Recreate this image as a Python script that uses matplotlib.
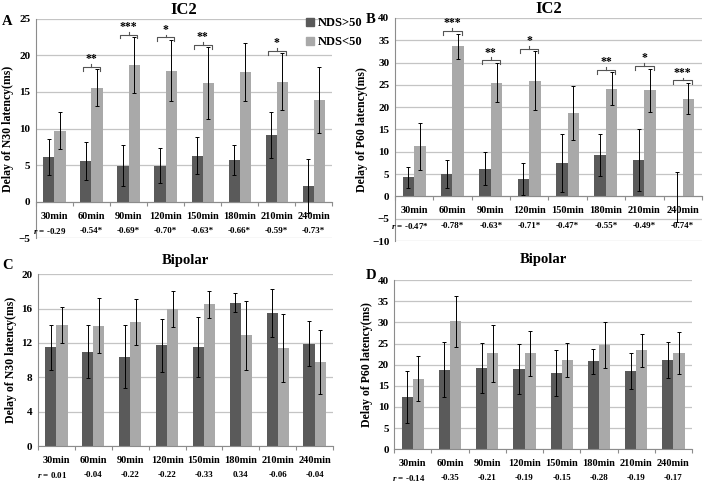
import numpy as np
import matplotlib
matplotlib.use("Agg")
import matplotlib.pyplot as plt
from matplotlib.patches import Patch

plt.rcParams["font.family"] = ["Liberation Serif", "DejaVu Serif"]
plt.rcParams["font.weight"] = "bold"
plt.rcParams["mathtext.fontset"] = "custom"
plt.rcParams["mathtext.it"] = "Liberation Serif:italic:bold"

times = ["30min", "60min", "90min", "120min", "150min", "180min", "210min", "240min"]

# panel A: IC2, N30
a_high = [6.1, 5.6, 4.9, 4.9, 6.3, 5.7, 9.1, 2.1]
a_high_err = [2.4, 2.6, 2.8, 2.4, 2.5, 2.0, 3.1, 3.7]
a_low = [9.7, 15.6, 18.7, 17.9, 16.2, 17.7, 16.4, 13.9]
a_low_err = [2.5, 2.5, 3.8, 4.2, 4.9, 4.0, 3.9, 4.5]
a_sig = ["", "**", "***", "*", "**", "", "*", ""]
a_r = ["-0.29", "-0.54*", "-0.69*", "-0.70*", "-0.63*", "-0.66*", "-0.59*", "-0.73*"]

# panel B: IC2, P60
b_high = [4.3, 5.0, 6.2, 3.9, 7.5, 9.3, 8.2, -0.2]
b_high_err = [2.4, 3.1, 3.7, 3.6, 6.5, 4.7, 6.9, 5.6]
b_low = [11.2, 33.6, 25.5, 25.9, 18.7, 24.1, 23.8, 21.9]
b_low_err = [5.2, 2.9, 4.4, 6.6, 6.1, 3.7, 4.8, 3.5]
b_sig = ["", "***", "**", "*", "", "**", "*", "***"]
b_r = ["-0.47*", "-0.78*", "-0.63*", "-0.71*", "-0.47*", "-0.55*", "-0.49*", "-0.74*"]

# panel C: Bipolar, N30
c_high = [11.5, 11.0, 10.4, 11.7, 11.5, 16.7, 15.5, 11.9]
c_high_err = [2.6, 3.1, 3.7, 3.1, 3.5, 1.1, 2.8, 2.6]
c_low = [14.1, 14.0, 14.4, 16.0, 16.5, 12.9, 11.4, 9.8]
c_low_err = [2.1, 3.2, 2.7, 2.1, 1.6, 4.0, 4.0, 3.7]
c_r = ["0.01", "-0.04", "-0.22", "-0.22", "-0.33", "0.34", "-0.06", "-0.04"]

# panel D: Bipolar, P60
d_high = [12.4, 18.8, 19.2, 18.9, 18.0, 20.8, 18.5, 21.1]
d_high_err = [6.2, 6.5, 6.0, 5.9, 5.5, 3.0, 4.2, 4.3]
d_low = [16.7, 30.3, 22.7, 22.7, 21.1, 24.6, 23.4, 22.8]
d_low_err = [5.3, 6.0, 6.8, 5.3, 4.1, 5.5, 3.9, 4.9]
d_r = ["-0.14", "-0.35", "-0.21", "-0.19", "-0.15", "-0.28", "-0.19", "-0.17"]

dark = "#5a5a5a"
light = "#a9a9a9"
grid = "#c4c4c4"

fig = plt.figure(figsize=(7.04, 4.84), dpi=100)


def panel(rect, high, high_err, low, low_err, ylim, step, ylabel, title, letter,
          r_vals, sig=None, title_size=12, title_y=1.02, letter_xy=(-0.1, 0.97)):
    ax = fig.add_axes(rect)
    x = np.arange(len(times))
    w = 0.3
    ax.bar(x - w / 2, high, w, color=dark, zorder=2)
    ax.bar(x + w / 2, low, w, color=light, zorder=2)
    ax.errorbar(x - w / 2, high, yerr=high_err, fmt="none", ecolor="black",
                elinewidth=0.7, capsize=1.5, capthick=0.7, zorder=3)
    ax.errorbar(x + w / 2, low, yerr=low_err, fmt="none", ecolor="black",
                elinewidth=0.7, capsize=1.5, capthick=0.7, zorder=3)

    ax.set_xlim(-0.5, len(times) - 0.5)
    ax.set_ylim(*ylim)
    ax.set_yticks(np.arange(ylim[0], ylim[1] + 0.1, step))
    ax.yaxis.grid(True, color=grid, linewidth=0.9, zorder=0)
    ax.set_axisbelow(True)
    for s in ["top", "right"]:
        ax.spines[s].set_visible(False)
    ax.spines["left"].set_color("#8c8c8c")
    ax.spines["bottom"].set_position(("data", 0))
    ax.spines["bottom"].set_color("#8c8c8c")
    ax.set_xticks(np.arange(len(times) + 1) - 0.5)
    ax.set_xticklabels([])
    ax.tick_params(axis="x", length=3, color="#8c8c8c")
    ax.tick_params(axis="y", length=0, labelsize=8, pad=4)
    ax.set_ylabel(ylabel, fontsize=8.5, fontweight="bold", labelpad=3)
    ax.set_title(title, fontsize=title_size, fontweight="bold", y=title_y, pad=0)
    ax.text(letter_xy[0], letter_xy[1], letter, transform=ax.transAxes,
            fontsize=10.5, fontweight="bold", ha="left", va="bottom")

    for i, t in enumerate(times):
        ax.annotate(t, (i, 0), xytext=(0, -10.5), textcoords="offset points",
                    ha="center", va="center", fontsize=7.5, fontweight="bold")
        lab = r_vals[i] if i else "$r$ = " + r_vals[i]
        ax.annotate(lab, (i, 0), xytext=(-3 if i == 0 else 0, -21),
                    textcoords="offset points", ha="center", va="center",
                    fontsize=6.5, fontweight="bold")

    if sig:
        span = ylim[1] - ylim[0]
        h = span * 0.018
        for i, s in enumerate(sig):
            if not s:
                continue
            top = max(high[i] + high_err[i], low[i] + low_err[i]) + span * 0.012
            x0, x1 = i - 0.24, i + 0.24
            ax.plot([x0, x0, x1, x1], [top - h, top, top, top - h],
                    color="#555555", lw=0.8, zorder=4)
            ax.plot([i, i], [top, top + h * 0.7], color="#555555", lw=0.8, zorder=4)
            ax.text(i, top + h * 0.4, s, ha="center", va="bottom",
                    fontsize=8.5, fontweight="bold")
    return ax


axA = panel([0.051, 0.508, 0.421, 0.453], a_high, a_high_err, a_low, a_low_err,
            (-5, 25), 5, "Delay of N30 latency(ms)", "IC2", "A", a_r, a_sig,
            letter_xy=(-0.115, 0.96))
axA.legend(handles=[Patch(color=dark, label="NDS>50"), Patch(color=light, label="NDS<50")],
           loc="upper left", bbox_to_anchor=(0.895, 1.03), frameon=False,
           handlelength=0.6, handleheight=0.6, handletextpad=0.3,
           labelspacing=0.55, borderaxespad=0, prop={"weight": "bold", "size": 9})

panel([0.561, 0.502, 0.436, 0.461], b_high, b_high_err, b_low, b_low_err,
      (-10, 40), 5, "Delay of P60 latency(ms)", "IC2", "B", b_r, b_sig,
      letter_xy=(-0.095, 0.965))

panel([0.054, 0.0785, 0.419, 0.355], c_high, c_high_err, c_low, c_low_err,
      (0, 20), 4, "Delay of N30 latency(ms)", "Bipolar", "C", c_r,
      title_size=10.5, title_y=1.06, letter_xy=(-0.12, 1.01))

panel([0.560, 0.072, 0.423, 0.349], d_high, d_high_err, d_low, d_low_err,
      (0, 40), 5, "Delay of P60 latency(ms)", "Bipolar", "D", d_r,
      title_size=10.5, title_y=1.1, letter_xy=(-0.095, 0.99))

fig.savefig("out.png", dpi=100)
